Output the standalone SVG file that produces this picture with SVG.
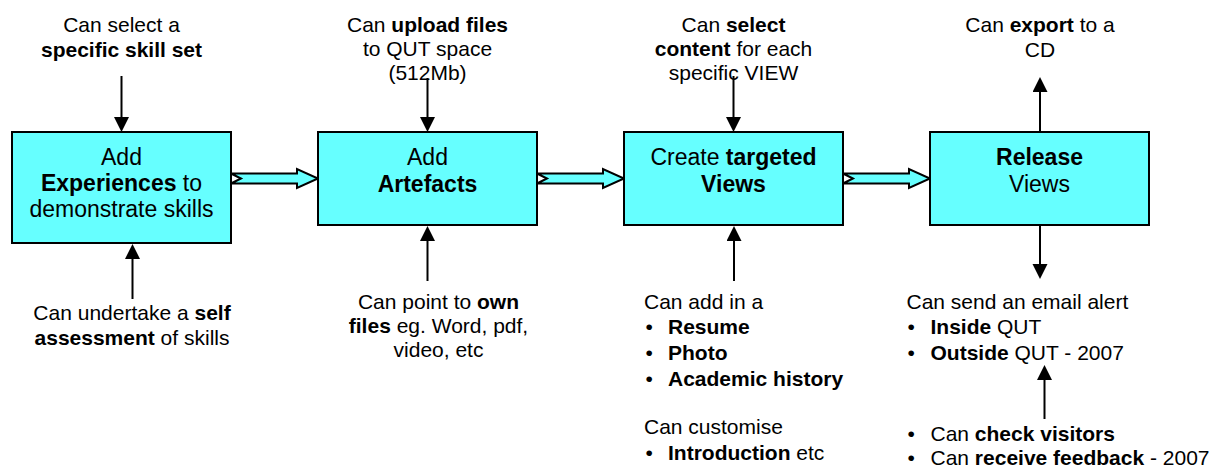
<svg xmlns="http://www.w3.org/2000/svg" width="1216" height="471" viewBox="0 0 1216 471">
<style>
.box{fill:#66FFFF;stroke:#000;stroke-width:2}
.blk{fill:#66FFFF;stroke:#000;stroke-width:2;stroke-linejoin:miter}
.ln{stroke:#000;stroke-width:2;fill:none;marker-end:url(#ah)}
text{font-family:"Liberation Sans",Arial,sans-serif;fill:#000}
.lb{font-size:21px}
.bx{font-size:23px}
.c{text-anchor:middle}
.b{font-weight:bold}
</style>
<defs>
<marker id="ah" markerUnits="userSpaceOnUse" markerWidth="16" markerHeight="16" refX="7" refY="7.5" orient="auto">
<path d="M0,0 L15,7.5 L0,15 z" fill="#000"/>
</marker>
</defs>
<rect width="1216" height="471" fill="#fff"/>

<g id="connectors">
<polygon class="blk" points="231,173.5 297,173.5 297,169 318,178.5 297,188 297,183.5 231,183.5 241,178.5"/>
<polygon class="blk" points="537,173.5 603,173.5 603,169 624,178.5 603,188 603,183.5 537,183.5 547,178.5"/>
<polygon class="blk" points="843,173.5 909,173.5 909,169 930,178.5 909,188 909,183.5 843,183.5 853,178.5"/>
<line class="ln" x1="121.5" y1="76" x2="121.5" y2="124"/>
<line class="ln" x1="427.5" y1="78" x2="427.5" y2="124"/>
<line class="ln" x1="733.5" y1="76" x2="733.5" y2="124"/>
<line class="ln" x1="1040" y1="132" x2="1040" y2="85"/>
<line class="ln" x1="132.5" y1="299" x2="132.5" y2="252"/>
<line class="ln" x1="427.5" y1="281" x2="427.5" y2="234"/>
<line class="ln" x1="734" y1="281" x2="734" y2="234"/>
<line class="ln" x1="1040" y1="226" x2="1040" y2="271"/>
<line class="ln" x1="1044.5" y1="419" x2="1044.5" y2="373"/>
</g>

<g id="node-experiences">
<rect class="box" x="12" y="132" width="219" height="111"/>
<text class="bx c" x="121.5" y="165">Add</text>
<text class="bx c" x="121.5" y="191"><tspan class="b">Experiences</tspan> to</text>
<text class="bx c" x="121.5" y="217">demonstrate skills</text>
</g>

<g id="node-artefacts">
<rect class="box" x="318" y="132" width="219" height="93"/>
<text class="bx c" x="427.5" y="165">Add</text>
<text class="bx c b" x="427.5" y="192">Artefacts</text>
</g>

<g id="node-views">
<rect class="box" x="624" y="132" width="219" height="93"/>
<text class="bx c" x="733.5" y="165">Create <tspan class="b">targeted</tspan></text>
<text class="bx c b" x="733.5" y="192">Views</text>
</g>

<g id="node-release">
<rect class="box" x="930" y="132" width="219" height="93"/>
<text class="bx c b" x="1039.5" y="165">Release</text>
<text class="bx c" x="1039.5" y="192">Views</text>
</g>

<g id="label-skillset">
<text class="lb c" x="121.5" y="32">Can select a</text>
<text class="lb c b" x="121.5" y="57">specific skill set</text>
</g>
<g id="label-upload">
<text class="lb c" x="427.5" y="32">Can <tspan class="b">upload files</tspan></text>
<text class="lb c" x="427.5" y="56">to QUT space</text>
<text class="lb c" x="427.5" y="80">(512Mb)</text>
</g>
<g id="label-select">
<text class="lb c" x="733.5" y="32">Can <tspan class="b">select</tspan></text>
<text class="lb c" x="733.5" y="56"><tspan class="b">content</tspan> for each</text>
<text class="lb c" x="733.5" y="80">specific VIEW</text>
</g>
<g id="label-export">
<text class="lb c" x="1040" y="32">Can <tspan class="b">export</tspan> to a</text>
<text class="lb c" x="1040" y="57">CD</text>
</g>
<g id="label-self">
<text class="lb c" x="132" y="320">Can undertake a <tspan class="b">self</tspan></text>
<text class="lb c" x="132" y="345"><tspan class="b">assessment</tspan> of skills</text>
</g>
<g id="label-point">
<text class="lb c" x="438.5" y="309">Can point to <tspan class="b">own</tspan></text>
<text class="lb c" x="438.5" y="333"><tspan class="b">files</tspan> eg. Word, pdf,</text>
<text class="lb c" x="438.5" y="357">video, etc</text>
</g>
<g id="label-addin">
<text class="lb" x="644" y="309">Can add in a</text>
<text class="lb" x="645.5" y="334">•</text><text class="lb b" x="668" y="334">Resume</text>
<text class="lb" x="645.5" y="360">•</text><text class="lb b" x="668" y="360">Photo</text>
<text class="lb" x="645.5" y="386">•</text><text class="lb b" x="668" y="386">Academic history</text>
<text class="lb" x="644" y="434">Can customise</text>
<text class="lb" x="645.5" y="460">•</text><text class="lb" x="668" y="460"><tspan class="b">Introduction</tspan> etc</text>
</g>
<g id="label-email">
<text class="lb" x="906.5" y="309">Can send an email alert</text>
<text class="lb" x="907.5" y="334">•</text><text class="lb" x="930.5" y="334"><tspan class="b">Inside</tspan> QUT</text>
<text class="lb" x="907.5" y="360">•</text><text class="lb" x="930.5" y="360"><tspan class="b">Outside</tspan> QUT - 2007</text>
</g>
<g id="label-visitors">
<text class="lb" x="907.5" y="441">•</text><text class="lb" x="930.5" y="441">Can <tspan class="b">check visitors</tspan></text>
<text class="lb" x="907.5" y="465">•</text><text class="lb" x="930.5" y="465">Can <tspan class="b">receive feedback</tspan> - 2007</text>
</g>
</svg>
